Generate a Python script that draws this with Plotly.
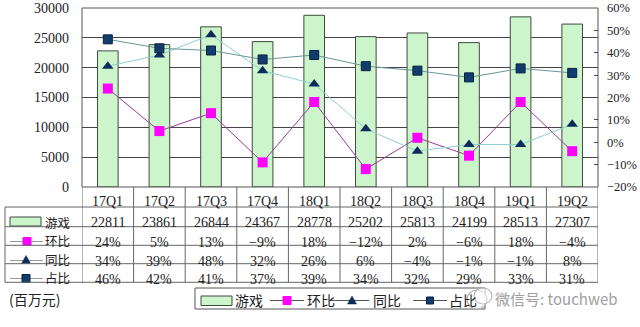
import plotly.graph_objects as go

# ---- data ----
quarters = ["17Q1", "17Q2", "17Q3", "17Q4", "18Q1", "18Q2", "18Q3", "18Q4", "19Q1", "19Q2"]
games_rev = [22811, 23861, 26844, 24367, 28778, 25202, 25813, 24199, 28513, 27307]  # 百万元
qoq_pct = [24, 5, 13, -9, 18, -12, 2, -6, 18, -4]
yoy_pct = [34, 39, 48, 32, 26, 6, -4, -1, -1, 8]
share_pct = [46, 42, 41, 37, 39, 34, 32, 29, 33, 31]
row_names = ["游戏", "环比", "同比", "占比"]

W, H = 640, 327
FONT = "Liberation Serif, Noto Sans CJK SC, serif"
CJK = "Noto Sans CJK SC, sans-serif"
TXT = "#222222"

BAR_FILL = "#ccf5cc"
BAR_LINE = "#3f4a3f"
QOQ_MK, QOQ_LN = "#ff00ff", "#9a3a9a"
YOY_MK, YOY_LN = "#0d2c5c", "#8fcfcf"
SHR_MK, SHR_LN = "#123c6b", "#6a9696"
GRID = "#444444"
TBL = "#666666"


def px(x):
    return x / W


def py(y):
    return 1 - y / H


# plot area in pixels
PL, PR, PT, PB = 82, 598, 8, 187

fig = go.Figure()

fig.add_trace(go.Bar(
    x=quarters, y=games_rev, name="游戏",
    marker=dict(color=BAR_FILL, line=dict(color=BAR_LINE, width=1)),
    yaxis="y", showlegend=False,
))
fig.add_trace(go.Scatter(
    x=quarters, y=qoq_pct, name="环比", mode="lines+markers",
    line=dict(color=QOQ_LN, width=1),
    marker=dict(symbol="square", size=10, color=QOQ_MK, line=dict(width=0)),
    yaxis="y2", showlegend=False,
))
fig.add_trace(go.Scatter(
    x=quarters, y=yoy_pct, name="同比", mode="lines+markers",
    line=dict(color=YOY_LN, width=1),
    marker=dict(symbol="triangle-up", size=10, color=YOY_MK, line=dict(width=0)),
    yaxis="y2", showlegend=False,
))
fig.add_trace(go.Scatter(
    x=quarters, y=share_pct, name="占比", mode="lines+markers",
    line=dict(color=SHR_LN, width=1),
    marker=dict(symbol="square", size=9, color=SHR_MK, line=dict(color="#0a2040", width=1)),
    yaxis="y2", showlegend=False,
))

shapes = []


def key_rect(x0, x1, y0, y1, fill, edge):
    shapes.append(dict(type="rect", xref="paper", yref="paper",
                       x0=px(x0), x1=px(x1), y0=py(y1), y1=py(y0),
                       fillcolor=fill, line=dict(color=edge, width=1)))


def key_line(x0, x1, y, color):
    shapes.append(dict(type="line", xref="paper", yref="paper",
                       x0=px(x0), x1=px(x1), y0=py(y), y1=py(y),
                       line=dict(color=color, width=1)))


def key_square(cx, cy, s, fill, edge=None):
    h = s / 2
    shapes.append(dict(type="rect", xref="paper", yref="paper",
                       x0=px(cx - h), x1=px(cx + h), y0=py(cy + h), y1=py(cy - h),
                       fillcolor=fill, line=dict(color=edge or fill, width=1)))


def key_triangle(cx, cy, s, fill):
    h = s / 2
    path = (f"M {px(cx - h)},{py(cy + h * 0.9)} L {px(cx + h)},{py(cy + h * 0.9)} "
            f"L {px(cx)},{py(cy - h * 0.9)} Z")
    shapes.append(dict(type="path", xref="paper", yref="paper", path=path,
                       fillcolor=fill, line=dict(color=fill, width=0.5)))


# table-side keys
key_rect(10, 41, 217, 226, BAR_FILL, BAR_LINE)
key_line(10, 43, 241.5, "#999999")
key_square(27, 241.5, 8, QOQ_MK)
key_line(10, 43, 260.5, "#999999")
key_triangle(26, 259.5, 9, YOY_MK)
key_line(10, 43, 278.5, "#999999")
key_square(26, 278.5, 8, SHR_MK, "#0a2040")

# bottom legend frame and keys
shapes.append(dict(type="rect", xref="paper", yref="paper",
                   x0=px(195), x1=px(485), y0=py(309), y1=py(288),
                   line=dict(color="#555555", width=1)))
key_rect(201, 232, 296, 305.5, BAR_FILL, BAR_LINE)
key_line(270, 304, 300.5, "#555555")
key_square(287, 300.5, 8, QOQ_MK)
key_line(329, 369, 300.5, "#555555")
key_triangle(352, 300, 9, YOY_MK)
key_line(413, 447, 300.5, "#555555")
key_square(430, 300.5, 7, SHR_MK, "#0a2040")

# ---- plot frame ----
shapes.append(dict(type="rect", xref="paper", yref="paper",
                   x0=px(PL), x1=px(PR), y0=py(PB), y1=py(PT),
                   line=dict(color="#555555", width=1), layer="above"))

# ---- data table grid ----
row_lines = [207, 226.7, 245.3, 263.7, 282.3]
for yl in row_lines:
    shapes.append(dict(type="line", xref="paper", yref="paper",
                       x0=px(5), x1=px(PR), y0=py(yl), y1=py(yl),
                       line=dict(color=TBL, width=1)))
shapes.append(dict(type="line", xref="paper", yref="paper",
                   x0=px(5), x1=px(5), y0=py(207), y1=py(282.3),
                   line=dict(color=TBL, width=1)))
for k in range(len(quarters) + 1):
    shapes.append(dict(type="line", xref="x", yref="paper",
                       x0=k - 0.5, x1=k - 0.5, y0=py(187), y1=py(282.3),
                       line=dict(color=TBL, width=1)))

annotations = []
# category row
for q in quarters:
    annotations.append(dict(x=q, xref="x", y=py(201), yref="paper", text=q,
                            showarrow=False, xanchor="center", yanchor="middle",
                            font=dict(family=FONT, size=14, color=TXT)))

# value rows
rows = [
    (223, [str(v) for v in games_rev]),
    (242, [f"{v}%".replace("-", "\u2212") for v in qoq_pct]),
    (261, [f"{v}%".replace("-", "\u2212") for v in yoy_pct]),
    (279, [f"{v}%".replace("-", "\u2212") for v in share_pct]),
]
for yc, texts in rows:
    for q, t in zip(quarters, texts):
        annotations.append(dict(x=q, xref="x", y=py(yc), yref="paper", text=t,
                                showarrow=False, xanchor="center", yanchor="middle",
                                font=dict(family=FONT, size=14, color=TXT)))

# row labels
for name, yc in zip(row_names, [222, 240.5, 259, 277.5]):
    annotations.append(dict(x=px(57.5), xref="paper", y=py(yc), yref="paper", text=name,
                            showarrow=False, xanchor="center", yanchor="middle",
                            font=dict(family=CJK, size=12.5, color=TXT)))

# bottom legend labels
for name, xl in zip(row_names, [233, 305, 371, 447]):
    annotations.append(dict(x=px(xl), xref="paper", y=py(300), yref="paper", text=name,
                            showarrow=False, xanchor="left", yanchor="middle",
                            font=dict(family=CJK, size=14, color=TXT)))

# unit note
annotations.append(dict(x=px(7), xref="paper", y=py(298.5), yref="paper", text="(百万元)",
                        showarrow=False, xanchor="left", yanchor="middle",
                        font=dict(family=CJK, size=14, color=TXT)))

# account watermark
shapes.append(dict(type="circle", xref="paper", yref="paper",
                   x0=px(467), x1=px(487), y0=py(309), y1=py(290),
                   fillcolor="rgba(255,255,255,0.75)", line=dict(color="#b0b0b0", width=1.2)))
shapes.append(dict(type="circle", xref="paper", yref="paper",
                   x0=px(474), x1=px(492), y0=py(304), y1=py(288),
                   fillcolor="rgba(255,255,255,0.6)", line=dict(color="#b8b8b8", width=1.2)))
annotations.append(dict(x=px(493), xref="paper", y=py(298), yref="paper",
                        text="微信号: touchweb", showarrow=False,
                        xanchor="left", yanchor="middle",
                        font=dict(family=CJK, size=15, color="#a0a0a0")))

fig.update_layout(
    width=W, height=H,
    margin=dict(l=0, r=0, t=0, b=0, autoexpand=False),
    paper_bgcolor="white", plot_bgcolor="white",
    bargap=0.6,
    showlegend=False,
    xaxis=dict(domain=[px(PL), px(PR)], type="category",
               showticklabels=False, ticks="", showgrid=False, zeroline=False,
               showline=False, range=[-0.5, len(quarters) - 0.5], automargin=False),
    yaxis=dict(domain=[py(PB), py(PT)], range=[0, 30000], dtick=5000, tickformat="d",
               showgrid=True, gridcolor=GRID, gridwidth=1, zeroline=False,
               showline=False, ticks="", ticklabelstandoff=12, automargin=False,
               tickfont=dict(family=FONT, size=14, color=TXT)),
    yaxis2=dict(overlaying="y", side="right", anchor="x", range=[-20, 60], dtick=10,
                ticksuffix="%", showgrid=False, zeroline=False, showline=False,
                ticks="inside", ticklen=4, tickcolor="#444444", ticklabelstandoff=8,
                automargin=False,
                tickfont=dict(family=FONT, size=12.5, color=TXT)),
    shapes=shapes,
    annotations=annotations,
)

fig.write_html("out.html")
